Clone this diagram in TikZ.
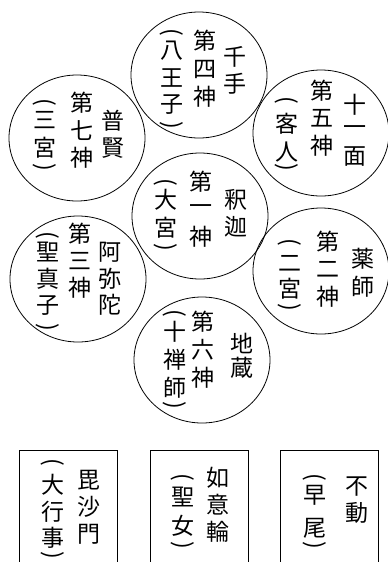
\documentclass[tikz,border=0pt]{standalone}
\usepackage{fontspec}
\newfontfamily\cjk{Noto Sans CJK JP}
\usetikzlibrary{shapes.geometric}
\newcommand{\vcol}[5]{%
  \foreach \c [count=\i from 0] in {#5} {\node[ch] (#1\i) at (#2,{#3+#4*\i}) {\c};}}
\newcommand{\vparen}[4]{%
  \node[ch, rotate=-90] (#1o) at (#2,#3) {(};
  \node[ch, rotate=-90] (#1c) at (#2,#4) {)};}
\begin{document}
\begin{tikzpicture}[x=1pt,y=-1pt,
  ch/.style={inner sep=0pt, font=\cjk\fontsize{23}{23}\selectfont},
  disc/.style={draw, line width=0.8pt, ellipse, inner sep=0pt, minimum width=136pt, minimum height=126pt},
  frame/.style={inner sep=0pt, minimum width=97pt, minimum height=111pt}]
\useasboundingbox[fill=white] (0,0) rectangle (388,562);
% circles
\node[disc] (c1) at (199,75) {};
\node[disc] (c2) at (321,133) {};
\node[disc] (c3) at (77,138) {};
\node[disc] (c4) at (200,216) {};
\node[disc] (c5) at (78,279) {};
\node[disc] (c6) at (321,271) {};
\node[disc] (c7) at (202,360) {};
% top circle
\vcol{a}{235}{57}{27}{千,手}
\vcol{b}{205}{41}{28}{第,四,神}
\vcol{c}{172}{51}{27}{八,王,子}
\vparen{c}{172}{32}{125}
% top right
\vcol{d}{355}{105}{26}{十,一,面}
\vcol{e}{322}{91}{27.5}{第,五,神}
\vcol{f}{287}{124}{28}{客,人}
\vparen{f}{287}{100}{167}
% left
\vcol{g}{113}{121}{27}{普,賢}
\vcol{h}{82}{103}{27.5}{第,七,神}
\vcol{k}{45}{120}{28}{三,宮}
\vparen{k}{45}{102}{167}
% center
\vcol{l}{236}{200}{27}{釈,迦}
\vcol{m}{201}{182}{27.5}{第,一,神}
\vcol{n}{166}{200}{28}{大,宮}
\vparen{n}{166}{182}{247}
% lower left
\vcol{o}{110}{252}{26.5}{阿,弥,陀}
\vcol{p}{80}{234}{27}{第,三,神}
\vcol{q}{48}{252}{27}{聖,真,子}
\vparen{q}{48}{235}{327}
% right
\vcol{r}{363}{259}{28}{薬,師}
\vcol{s}{328}{242}{27.5}{第,二,神}
\vcol{t}{290}{263}{26}{二,宮}
\vparen{t}{290}{242}{307}
% bottom
\vcol{u}{242}{343}{25}{地,蔵}
\vcol{v}{203}{322}{28}{第,六,神}
\vcol{w}{175}{332}{28}{十,禅,師}
\vparen{w}{175}{313}{405}
% boxes
\node[frame] (b1) at (68.5,506.5) {};
\node[frame] (b2) at (199.5,506.5) {};
\node[frame] (b3) at (329.5,506.5) {};
\foreach \b in {b1,b2,b3}
  \draw[line width=0.8pt] (\b.south west) -- (\b.north west) -- (\b.north east) -- (\b.south east);
\vcol{x}{89}{480}{27}{毘,沙,門}
\vcol{y}{53}{485}{26.5}{大,行,事}
\vparen{y}{53}{462}{555}
\vcol{z}{218}{478}{27}{如,意,輪}
\vcol{aa}{183}{497}{29}{聖,女}
\vparen{aa}{183}{477}{545}
\vcol{ab}{357}{487}{26}{不,動}
\vcol{ac}{315}{495}{33}{早,尾}
\vparen{ac}{315}{477}{545}
\end{tikzpicture}
\end{document}
